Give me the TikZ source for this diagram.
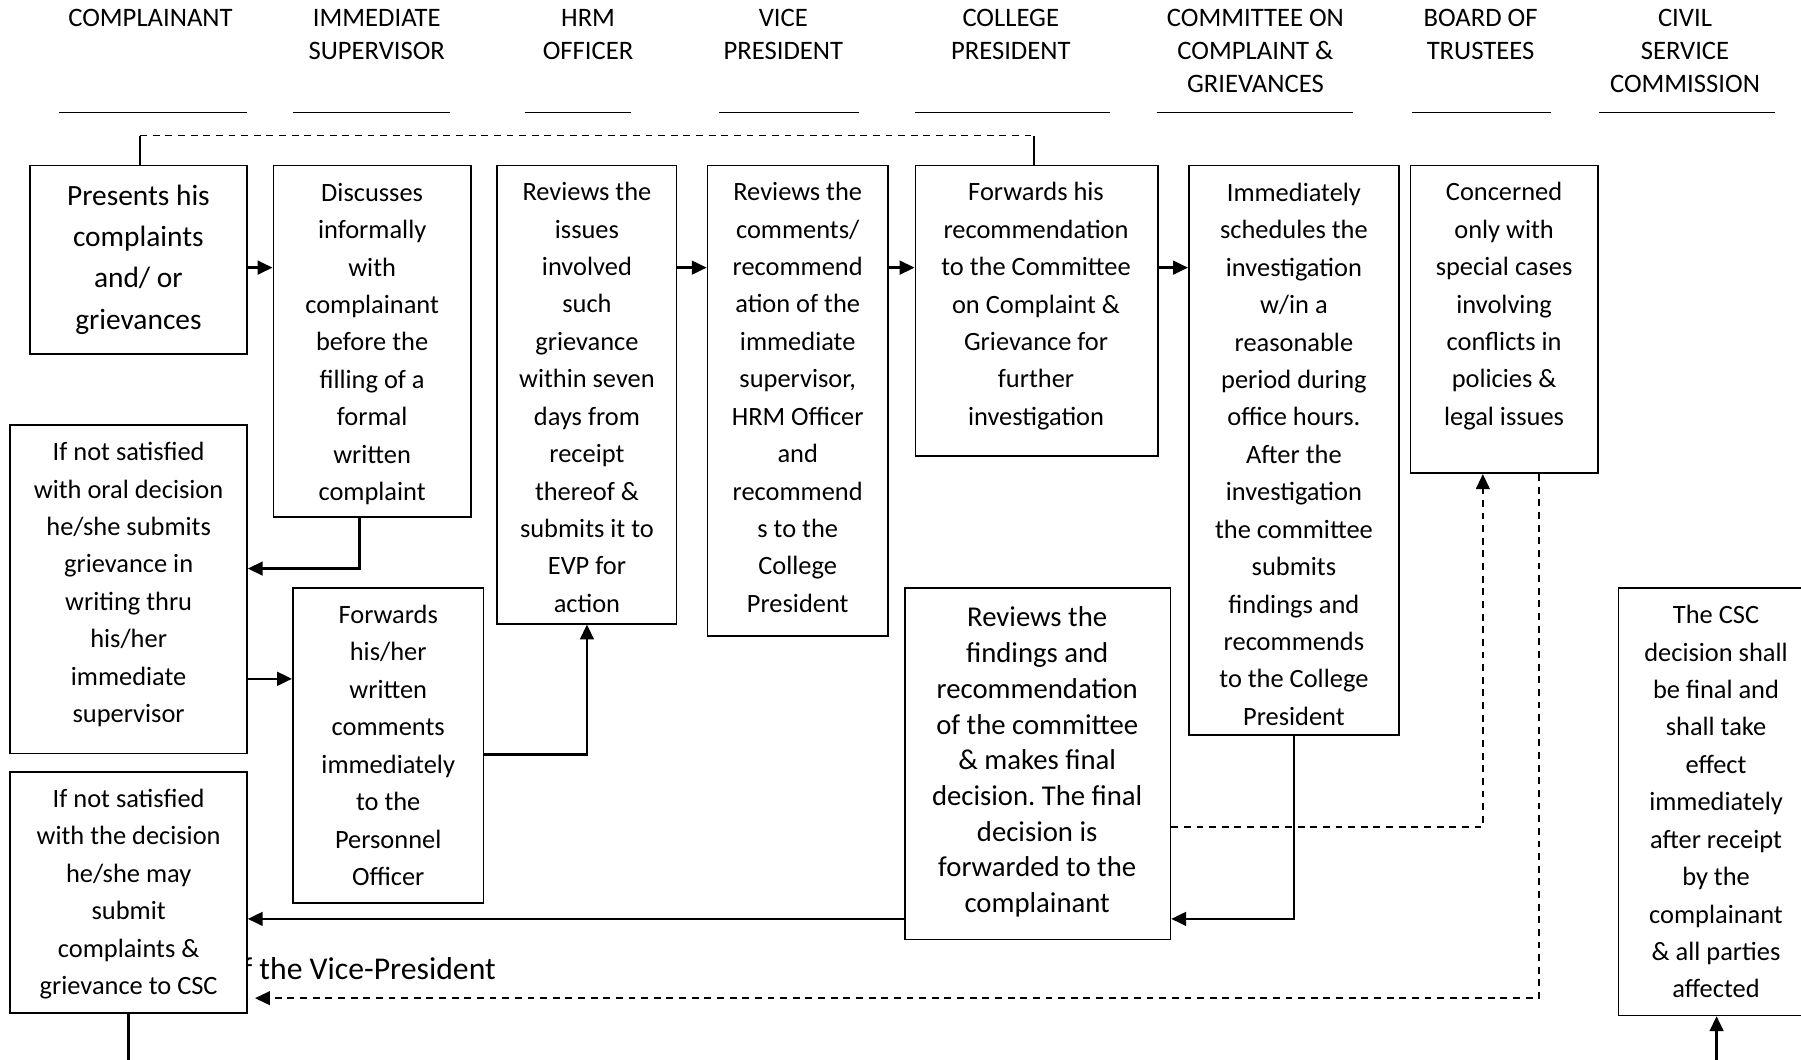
\documentclass[tikz,border=0pt]{standalone}
\usepackage{fontspec}
\setmainfont{Carlito}
\frenchspacing
\usetikzlibrary{arrows.meta}
\begin{document}
\begin{tikzpicture}[x=0.5pt,y=-0.5pt,
  box/.style={draw=black, line width=0.75pt, fill=white, inner sep=0pt},
  txt/.style={align=center, inner sep=0pt, font=\fontsize{11.5}{16.29}\selectfont},
  head/.style={align=center, inner sep=0pt, anchor=north, font=\fontsize{11.6}{14.5}\selectfont},
  rule/.style={line width=0.8pt},
  link/.style={line width=1pt},
  arr/.style={line width=1pt, -{Triangle[length=6.5pt,width=6pt]}},
  dashlink/.style={line width=0.7pt, dash pattern=on 3pt off 2.5pt},
  dasharr/.style={dashlink, -{Triangle[length=6.5pt,width=6pt]}},
]
\useasboundingbox (0,0) rectangle (1568,922);

% column headings
\node[head] (h1) at (131,7.5) {COMPLAINANT};
\node[head] (h2) at (328,7.5) {IMMEDIATE\\SUPERVISOR};
\node[head] (h3) at (512,7.5) {HRM\\OFFICER};
\node[head] (h4) at (682,7.5) {VICE\\PRESIDENT};
\node[head] (h5) at (880,7.5) {COLLEGE\\PRESIDENT};
\node[head] (h6) at (1093,7.5) {COMMITTEE ON\\COMPLAINT \&\\GRIEVANCES};
\node[head] (h7) at (1289,7.5) {BOARD OF\\TRUSTEES};
\node[head] (h8) at (1467,7.5) {CIVIL\\SERVICE\\COMMISSION};

% heading rules
\draw[rule] (51,98) -- (215,98);
\draw[rule] (255,98) -- (392,98);
\draw[rule] (457,98) -- (549,98);
\draw[rule] (626,98) -- (748,98);
\draw[rule] (797,98) -- (966,98);
\draw[rule] (1007,98) -- (1178,98);
\draw[rule] (1229,98) -- (1350,98);
\draw[rule] (1392,98) -- (1545,98);

% text partly hidden behind the lower-left box
\node[inner sep=0pt, anchor=east, font=\fontsize{13.8}{16}\selectfont] (vp) at (432,843) {of the Vice-President};

% boxes
\node[box, minimum width=94.5pt, minimum height=82pt]   (b1)  at (120.5,226) {};
\node[box, minimum width=86pt,   minimum height=153pt]  (b2)  at (324,297) {};
\node[box, minimum width=78pt,   minimum height=199.5pt](b3)  at (511,343.5) {};
\node[box, minimum width=78.5pt, minimum height=205pt]  (b4)  at (694.5,349) {};
\node[box, minimum width=105.5pt,minimum height=126.5pt](b5)  at (902.5,270.5) {};
\node[box, minimum width=91.5pt, minimum height=248pt]  (b6)  at (1126.5,392) {};
\node[box, minimum width=81.5pt, minimum height=134pt]  (b7)  at (1309.5,278) {};
\node[box, minimum width=103pt,  minimum height=143pt]  (b8)  at (112,513) {};
\node[box, minimum width=83pt,   minimum height=137pt]  (b9)  at (338,649) {};
\node[box, minimum width=103pt,  minimum height=105pt]  (b10) at (112,777) {};
\node[box, minimum width=115.5pt,minimum height=153pt]  (b11) at (903.5,665) {};
\node[box, minimum width=85.5pt, minimum height=186pt]  (b12) at (1494.5,698) {};

% box texts
\node[txt, font=\fontsize{12.8}{18}\selectfont] (t1) at (120.5,226)
  {Presents his\\complaints\\and/ or\\grievances};
\node[txt] (t2) at (324,299.5)
  {Discusses\\informally\\with\\complainant\\before the\\filling of a\\formal\\written\\complaint};
\node[txt] (t3) at (511,346)
  {Reviews the\\issues\\involved\\such\\grievance\\within seven\\days from\\receipt\\thereof \&\\submits it to\\EVP for\\action};
\node[txt] (t4) at (694.5,346)
  {Reviews the\\comments/\\recommend\\ation of the\\immediate\\supervisor,\\HRM Officer\\and\\recommend\\s to the\\College\\President};
\node[txt] (t5) at (902,266.5)
  {Forwards his\\recommendation\\to the Committee\\on Complaint \&\\Grievance for\\further\\investigation};
\node[txt] (t6) at (1126.5,395.5)
  {Immediately\\schedules the\\investigation\\w/in a\\reasonable\\period during\\office hours.\\After the\\investigation\\the committee\\submits\\findings and\\recommends\\to the College\\President};
\node[txt] (t7) at (1309.5,266.5)
  {Concerned\\only with\\special cases\\involving\\conflicts in\\policies \&\\legal issues};
\node[txt] (t8) at (112,509)
  {If not satisfied\\with oral decision\\he/she submits\\grievance in\\writing thru\\his/her\\immediate\\supervisor};
\node[txt] (t9) at (338,649)
  {Forwards\\his/her\\written\\comments\\immediately\\to the\\Personnel\\Officer};
\node[txt] (t10) at (112,778.5)
  {If not satisfied\\with the decision\\he/she may\\submit\\complaints \&\\grievance to CSC};
\node[txt, font=\fontsize{12.5}{15.56}\selectfont] (t11) at (903,663.5)
  {Reviews the\\findings and\\recommendation\\of the committee\\\& makes final\\decision. The final\\decision is\\forwarded to the\\complainant};
\node[txt] (t12) at (1494,698)
  {The CSC\\decision shall\\be final and\\shall take\\effect\\immediately\\after receipt\\by the\\complainant\\\& all parties\\affected};

% helper levels for connector routing
\coordinate (top)  at (0,118);
\coordinate (r1)   at (0,233);
\coordinate (c2)   at (313,495);
\coordinate (r6)   at (0,591);
\coordinate (r7)   at (0,657);
\coordinate (r8)   at (0,800);
\coordinate (c10)  at (1291,720);
\coordinate (c11)  at (1340,869);
\coordinate (e11)  at (222,869);
\coordinate (bot)  at (0,935);

% feedback line across the top
\draw[link] (b1.north -| 122,0) -- (top -| 122,0);
\draw[dashlink] (top -| 122,0) -- (top -| 900,0);
\draw[link] (top -| 900,0) -- (b5.north -| 900,0);

% main flow
\draw[arr] (b1.east |- r1) -- (b2.west |- r1);
\draw[arr] (b3.east |- r1) -- (b4.west |- r1);
\draw[arr] (b4.east |- r1) -- (b5.west |- r1);
\draw[arr] (b5.east |- r1) -- (b6.west |- r1);
\draw[arr] (b2.south -| c2) |- (b8.east |- c2);
\draw[arr] (b8.east |- r6) -- (b9.west |- r6);
\draw[arr] (b9.east |- r7) -| (b3.south);
\draw[arr] (b6.south) |- (b11.east |- r8);
\draw[arr] (b11.west |- r8) -- (b10.east |- r8);
\draw[dasharr] (b11.east |- c10) -| (b7.south -| c10);
\draw[dasharr] (b7.south -| c11) |- (e11);
\draw[link] (b10.south) -- (b10.south |- bot);
\draw[arr] (b12.south |- bot) -- (b12.south);
\end{tikzpicture}
\end{document}
